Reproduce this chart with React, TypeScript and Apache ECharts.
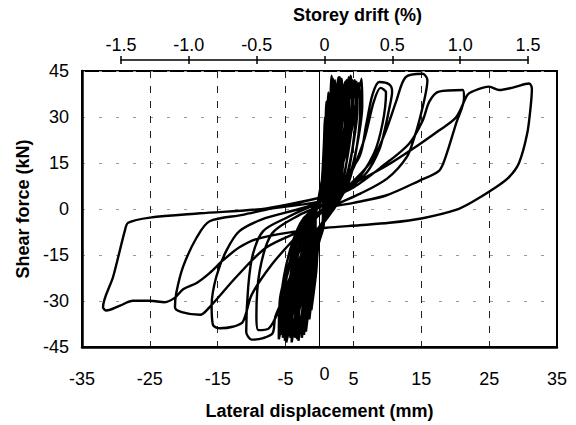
import React, { useEffect, useRef } from "react";
import * as echarts from "echarts";

// Tick values
const displacementLabels = [-35, -25, -15, -5, 5, 15, 25, 35];
const driftTicks = [-1.5, -1.0, -0.5, 0, 0.5, 1.0, 1.5];
const forceTicks = [-45, -30, -15, 0, 15, 30, 45];

// Small elastic cycles (dense core), [displacement mm, shear kN]
const smallCycles: number[][] = [
  [0, 0], [0.1, 4], [0.4, 10.5], [0.66, 21.6], [0.8, 30],
  [0.9, 24], [0.72, 15], [0.72, 6.6], [0.54, 1], [0.41, -6], [-0.15, -9.8], [-0.47, -20.2], [-0.9, -28],
  [-0.75, -19.6], [-0.59, -9.2], [-0.57, -3], [-0.1, 4], [0.65, 13.3], [1.07, 27.4], [1.3, 38],
  [1.4, 30.4], [1.17, 19], [1.05, 8.4], [0.69, 1], [0.35, -6], [-0.45, -12.6], [-0.98, -25.9], [-1.5, -36],
  [-1.35, -25.2], [-0.98, -11.9], [-0.75, -3], [-0.03, 4], [0.9, 15.2], [1.48, 31.3], [1.8, 43.5],
  [1.9, 34.8], [1.62, 21.8], [1.37, 9.6], [0.84, 1], [0.3, -6], [-0.7, -14], [-1.4, -28.8], [-2.0, -40],
  [-1.85, -28], [-1.3, -13.2], [-0.9, -3], [0.05, 4], [1.15, 14.7], [1.89, 30.2], [2.3, 42],
  [2.4, 33.6], [2.07, 21], [1.7, 9.2], [0.99, 1], [0.24, -6], [-1.0, -14.7], [-1.91, -30.2], [-2.6, -42],
  [-2.45, -29.4], [-1.69, -13.9], [-1.08, -3], [0.12, 4], [1.4, 15], [2.3, 31], [2.8, 43],
  [2.9, 34.4], [2.52, 21.5], [2.02, 9.5], [1.14, 1], [0.19, -6], [-1.25, -15], [-2.34, -31], [-3.1, -43],
  [-2.95, -30.1], [-2.0, -14.2], [-1.23, -3], [0.2, 4], [1.65, 14.9], [2.7, 30.6], [3.3, 42.5],
  [3.4, 34], [2.97, 21.3], [2.35, 9.4], [1.29, 1], [0.14, -6], [-1.5, -14.7], [-2.76, -30.2], [-3.6, -42],
  [-3.45, -29.4], [-2.34, -13.9], [-1.38, -3], [0.27, 4], [1.9, 14.5], [3.1, 29.9], [3.8, 41.5],
  [3.9, 33.2], [3.42, 20.8], [2.67, 9.1], [1.44, 1], [0.09, -6], [-1.75, -15.2], [-3.19, -31.3], [-4.1, -43.5],
  [-3.95, -30.5], [-2.67, -14.4], [-1.53, -3], [0.35, 4], [2.15, 15], [3.5, 31], [4.3, 43],
  [4.4, 34.4], [3.87, 21.5], [3.0, 9.5], [1.59, 1], [0.04, -6], [-2.0, -14.4], [-3.61, -29.5], [-4.6, -41],
  [-4.45, -28.7], [-3.0, -13.5], [-1.68, -3], [0.44, 4], [2.45, 14.7], [4.0, 30.2], [4.9, 42],
  [5.0, 33.6], [4.41, 21], [3.39, 9.2], [1.77, 1], [-0.01, -6], [-2.25, -15], [-4.0, -31], [-5.1, -43],
  [-4.95, -30.1], [-3.3, -14.2], [-1.83, -3], [0.53, 4], [2.75, 14.5], [4.5, 29.9], [5.5, 41.5],
  [5.6, 33.2], [4.95, 20.8], [3.78, 9.1], [1.95, 1], [-0.06, -6], [-2.5, -14.4], [-4.46, -29.5], [-5.6, -41],
  [-5.45, -28.7], [-3.64, -13.5], [-1.98, -3], [0.63, 4], [3.1, 14.9], [5.08, 30.6], [6.2, 42.5],
  [6.3, 34], [5.58, 21.3], [4.23, 9.4], [2.16, 1], [-0.1, -6], [-2.7, -14.9], [-4.8, -30.6], [-6.0, -42.5],
  [-5.85, -29.8], [-3.9, -14], [-2.1, -3],
];

// Repeated elastic cycles (second pass through the core)
const repeatCycles: number[][] = [
  [0.15, 4], [0.58, 12.3], [0.88, 25.2], [1.0, 35],
  [1.2, 28], [0.95, 17.5], [1.0, 7.7], [0.75, 1], [0.58, -6], [-0.14, -11.6], [-0.66, -23.8], [-1.2, -33],
  [-1.05, -23.1], [-0.9, -10.9], [-0.96, -3], [0.3, 4], [1.16, 14.9], [1.76, 30.6], [2.0, 42.5],
  [2.2, 34], [1.9, 21.3], [1.7, 9.4], [1.1, 1], [0.47, -6], [-0.64, -14.4], [-1.54, -29.5], [-2.3, -41],
  [-2.15, -28.7], [-1.73, -13.5], [-1.29, -3], [0.45, 4], [1.74, 15], [2.64, 31], [3.0, 43],
  [3.2, 34.4], [2.85, 21.5], [2.4, 9.5], [1.45, 1], [0.37, -6], [-1.09, -14.9], [-2.34, -30.6], [-3.3, -42.5],
  [-3.15, -29.8], [-2.48, -14], [-1.59, -3], [0.6, 4], [2.32, 14.7], [3.52, 30.2], [4.0, 42],
  [4.2, 33.6], [3.8, 21], [3.1, 9.2], [1.8, 1], [0.27, -6], [-1.54, -14.7], [-3.14, -30.2], [-4.3, -42],
  [-4.15, -29.4], [-3.23, -13.9], [-1.89, -3], [0.69, 4], [2.67, 15.2], [4.05, 31.3], [4.6, 43.5],
  [4.8, 34.8], [4.37, 21.8], [3.52, 9.6], [2.01, 1], [0.21, -6], [-1.8, -15.2], [-3.62, -31.3], [-4.9, -43.5],
  [-4.75, -30.5], [-3.68, -14.4], [-2.07, -3], [0.78, 4], [3.02, 14.7], [4.58, 30.2], [5.2, 42],
  [5.4, 33.6], [4.94, 21], [3.94, 9.2], [2.22, 1], [0.16, -6], [-2.03, -14.7], [-4.02, -30.2], [-5.4, -42],
  [-5.25, -29.4], [-4.05, -13.9], [-2.22, -3], [0.87, 4], [3.36, 14.4], [5.1, 29.5], [5.8, 41],
  [6.0, 32.8], [5.51, 20.5], [4.36, 9], [2.43, 1], [0.12, -6], [-2.21, -14.4], [-4.34, -29.5], [-5.8, -41],
  [-5.65, -28.7], [-4.35, -13.5], [-2.34, -3],
];

// Larger hysteresis loops
const loopA: number[][] = [
  [1, 2], [3, 8], [5.9, 17.1], [6.9, 27.7], [7.8, 37.2], [8.8, 41.4], [10.3, 40.6], [10.7, 38.3],
  [10.3, 33], [9.6, 25.7], [8.8, 19.3], [7, 12], [4, 6], [1, 1], [-1, -3],
  [-2.5, -10], [-4.5, -25], [-6.5, -35], [-6.9, -40.5], [-8.3, -42.1], [-10, -42.6], [-10.8, -40],
  [-10.5, -25.2], [-9.8, -14.6], [-8.3, -7.2], [-5, -3], [-1, 1],
];
const loopA2: number[][] = [
  [1, 2], [4, 9], [6.5, 22], [8, 35], [9, 39.5], [9.8, 38], [9.3, 28], [8, 18], [5, 8], [1, 1],
  [-1.5, -6], [-4, -20], [-6, -33], [-7.5, -39], [-9, -39.5], [-9.3, -35], [-8.8, -20], [-7, -8], [-3, -2],
];
const loopB: number[][] = [
  [1, 2], [4, 7], [7.8, 16], [9.8, 25.6], [11.3, 35.1], [12.7, 43], [15.2, 44.1], [15.9, 42],
  [15.6, 37.2], [14.7, 28.8], [14, 23.5], [12.9, 17.1], [10, 10], [6, 5], [2, 1], [-1, -3],
  [-3, -8], [-7, -18], [-10, -28], [-11.3, -36.8], [-12.8, -38.4], [-14.7, -38.9], [-15.7, -37.8],
  [-15.9, -31.5], [-15.2, -22], [-13.7, -13.5], [-11.8, -7.2], [-8, -3], [-3, 0], [1, 3],
];
const loopC: number[][] = [
  [5, 7], [9.3, 14], [13.2, 21.3], [15.2, 28.8], [16.2, 35.1], [17.6, 38.3], [21.1, 38.8], [21.3, 36.2],
  [20.1, 27.7], [18.6, 17.1], [17.6, 12.4], [14.7, 9.2], [9.8, 4.4], [5, 2], [1, 0],
  [-2, -6.1], [-7.8, -12.5], [-12.2, -22], [-16.2, -32], [-17.6, -34.5], [-20.3, -33.6], [-21.3, -32],
  [-21.1, -27.3], [-20.1, -18.8], [-18.1, -9.3], [-16.2, -4], [-11.3, -1.9], [-6.9, 0.2], [1, 3],
];
const loopD: number[][] = [
  [5.4, 8.7], [9.8, 14], [14.2, 20.3], [17.6, 25.6], [20.1, 29.8], [21.8, 37.2], [22.5, 38.3],
  [25, 39.9], [26.5, 38.8], [28.5, 39.6], [30.9, 40.9], [31.3, 39.3], [31.1, 33], [30.6, 24.5],
  [29.4, 15], [27.9, 10.3], [26, 7.1], [22.5, 2.3], [20.1, -0.3], [15.2, -3], [10.3, -4.5],
  [5.9, -5.3], [1, -6.1],
  [-4, -7.5], [-9.3, -9.8], [-11.8, -12.5], [-14.2, -16.7], [-16.2, -20.9], [-18.1, -24.1],
  [-20.1, -26.2], [-21.3, -28.9], [-22.8, -30.4], [-25, -29.9], [-27.5, -29.9], [-29.4, -31.5],
  [-31.4, -33.1], [-31.9, -32], [-30.4, -22], [-28.7, -7.2], [-28.2, -4.5], [-25, -2.8],
  [-17.6, -1.4], [-7.8, 0.2], [1.5, 4.4],
];

const FONT = "'Liberation Sans', Arial, Helvetica, sans-serif";

export default function App() {
  const ref = useRef<HTMLDivElement>(null);

  useEffect(() => {
    if (!ref.current) return;
    const chart = echarts.init(ref.current, null, { renderer: "svg" });
    const history = [...smallCycles, ...repeatCycles, ...loopA, ...loopA2, ...loopB, ...loopC, ...loopD];
    const labelStyle = { color: "#000", fontSize: 18, fontFamily: FONT };
    const nameStyle = { color: "#000", fontSize: 18, fontWeight: "bold", fontFamily: FONT };

    chart.setOption({
      animation: false,
      backgroundColor: "#fff",
      grid: [
        { left: 82, right: 19, top: 71, bottom: 70, show: true, borderColor: "#000", borderWidth: 2, backgroundColor: "transparent" },
        { left: 121, width: 407, top: 60, height: 1, show: false },
      ],
      xAxis: [
        {
          type: "value", gridIndex: 0, position: "bottom", min: -35, max: 35, interval: 10,
          axisLine: { show: true, onZero: false, lineStyle: { color: "#000", width: 2.5 } },
          axisTick: { show: false },
          axisLabel: {
            ...labelStyle, margin: 23,
            formatter: (v: number) => (displacementLabels.includes(v) ? String(v) : ""),
          },
          splitLine: { show: true, lineStyle: { color: "#222", width: 1, type: [7, 8] } },
          name: "Lateral displacement (mm)", nameLocation: "middle", nameGap: 55,
          nameTextStyle: nameStyle,
        },
        {
          type: "value", gridIndex: 0, position: "bottom", min: -35, max: 35, interval: 35,
          axisLine: { show: false, onZero: false }, axisTick: { show: false },
          axisLabel: {
            ...labelStyle, margin: 18, padding: [0, 0, 0, 10],
            formatter: (v: number) => (v === 0 ? "0" : ""),
          },
          splitLine: { show: true, lineStyle: { color: "#000", width: 1 } },
        },
        {
          type: "value", gridIndex: 1, position: "top", min: -1.5, max: 1.5, interval: 0.5,
          axisLine: { show: true, onZero: false, lineStyle: { color: "#000", width: 1.5 } },
          axisTick: { show: true, length: 4, lineStyle: { color: "#000", width: 1.5 } },
          axisLabel: {
            ...labelStyle, margin: 6,
            formatter: (v: number) => (driftTicks.includes(v) ? (v === 0 ? "0" : v.toFixed(1)) : ""),
          },
          splitLine: { show: false },
          name: "Storey drift (%)", nameLocation: "middle", nameGap: 36,
          nameTextStyle: { ...nameStyle, padding: [0, 0, 0, 66] },
        },
        {
          type: "value", gridIndex: 1, position: "top", min: -1.5, max: 1.5, interval: 0.5,
          axisLine: { show: false, onZero: false },
          axisTick: { show: true, inside: true, length: 4, lineStyle: { color: "#000", width: 1.5 } },
          axisLabel: { show: false }, splitLine: { show: false },
        },
      ],
      yAxis: [
        {
          type: "value", gridIndex: 0, min: -45, max: 45, interval: 15,
          axisLine: { show: true, onZero: false, lineStyle: { color: "#000", width: 2.5 } },
          axisTick: { show: false },
          axisLabel: {
            ...labelStyle, margin: 13,
            formatter: (v: number) => (forceTicks.includes(v) ? String(v) : ""),
          },
          splitLine: { show: true, lineStyle: { color: "#999", width: 1, type: [3, 14] } },
          name: "Shear force (kN)", nameLocation: "middle", nameGap: 48,
          nameTextStyle: nameStyle,
        },
        { type: "value", gridIndex: 1, min: 0, max: 1, show: false },
      ],
      series: [
        {
          type: "line", xAxisIndex: 0, yAxisIndex: 0, data: history,
          showSymbol: false, symbol: "none", smooth: 0.3, silent: true,
          lineStyle: { color: "#000", width: 2.4 },
        },
      ],
    });

    return () => chart.dispose();
  }, []);

  return (
    <div
      ref={ref}
      style={{ position: "absolute", left: 0, top: 0, width: 576, height: 425, background: "#fff" }}
    />
  );
}
